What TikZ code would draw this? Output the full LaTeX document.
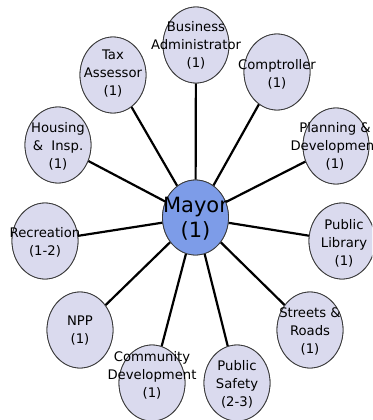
\documentclass[tikz,border=0pt]{standalone}
\usepackage{fontspec}
\setmainfont{DejaVu Sans}
\usetikzlibrary{shapes.geometric}
\definecolor{deptfill}{HTML}{DADAEE}
\definecolor{mayorfill}{HTML}{7D9CE8}
\definecolor{rim}{HTML}{3A3A3A}
\tikzset{
  dept/.style={ellipse, draw=rim, line width=0.8pt, fill=deptfill,
    minimum width=66pt, minimum height=76pt, inner sep=0pt},
  chief/.style={ellipse, draw=rim, line width=0.8pt, fill=mayorfill,
    minimum width=66pt, minimum height=75pt, inner sep=0pt},
  caption/.style={align=center, inner sep=0pt,
    font=\fontsize{13.2pt}{18pt}\selectfont},
  bigcaption/.style={align=center, inner sep=0pt,
    font=\fontsize{21pt}{25pt}\selectfont},
  spoke/.style={line width=2.2pt, black}
}
\begin{document}
\begin{tikzpicture}[x=1pt, y=-1pt]
\useasboundingbox (0,0) rectangle (372,420);
\clip (0,0) rectangle (372,420);
\fill[white] (0,0) rectangle (372,420);

% hub
\node[chief] (mayor) at (195.5,217.5) {};

% departments
\node[dept] (ba)   at (196,45)  {};
\node[dept] (tax)  at (113,75)  {};
\node[dept] (comp) at (277,72)  {};
\node[dept] (hous) at (58,145)  {};
\node[dept] (plan) at (336,146) {};
\node[dept] (rec)  at (45,241)  {};
\node[dept] (lib)  at (342,241) {};
\node[dept] (npp)  at (80,330)  {};
\node[dept] (comm) at (152,383) {};
\node[dept] (safe) at (237,383) {};
\node[dept] (str)  at (310,330) {};

% spokes from the mayor to every department
\foreach \d in {ba,tax,comp,hous,plan,rec,lib,npp,comm,safe,str}
  \draw[spoke] (mayor) -- (\d);

% ellipses drawn again so they sit over the spoke ends
\node[chief] at (mayor) {};
\foreach \d in {ba,tax,comp,hous,plan,rec,lib,npp,comm,safe,str}
  \node[dept] at (\d) {};

% labels
\node[bigcaption] (mayorlbl) at (195.5,219) {Mayor\\(1)};
\node[caption] (balbl)   at (196,45.5)  {Business\\Administrator\\(1)};
\node[caption] (taxlbl)  at (113,74)  {Tax\\Assessor\\(1)};
\node[caption] (complbl) at (277,74)  {Comptroller\\(1)};
\node[caption] (houslbl) at (58,146.5)  {Housing\\\&~~Insp.\\(1)};
\node[caption] (planlbl) at (335,146.5) {Planning \&\\Development\\(1)};
\node[caption] (reclbl)  at (45,242.5)  {Recreation\\(1-2)};
\node[caption] (liblbl)  at (344,243) {Public\\Library\\(1)};
\node[caption] (npplbl)  at (80,330.5)  {NPP\\(1)};
\node[caption] (commlbl) at (152,375) {Community\\Development\\(1)};
\node[caption] (safelbl) at (237,384) {Public\\Safety\\(2-3)};
\node[caption] (strlbl)  at (310,331) {Streets \&\\Roads\\(1)};
\end{tikzpicture}
\end{document}
